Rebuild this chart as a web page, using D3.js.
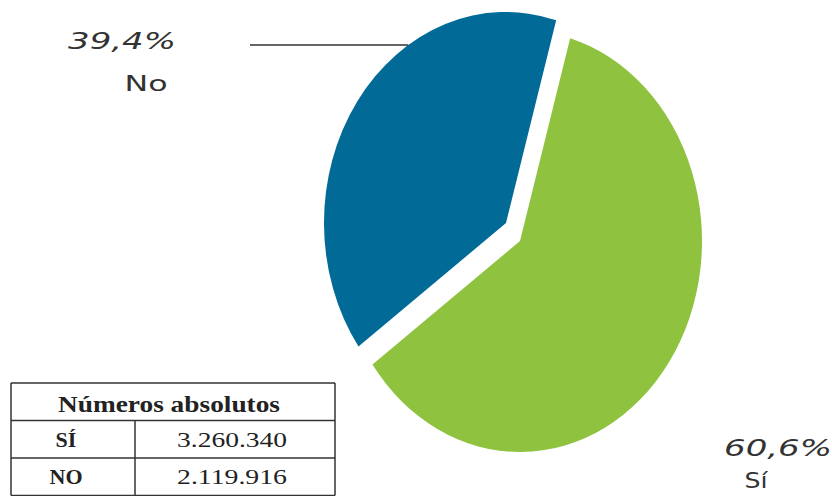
<!DOCTYPE html>
<head>
  <meta charset="utf-8">
  <title>Sí / No</title>
  <script src="https://d3js.org/d3.v7.min.js"></script>
  <style>
    body { margin: 0; background: #fff; }
    .pct { font-family: "DejaVu Sans", Verdana, sans-serif; font-style: italic; font-size: 23px; fill: #333; }
    .cat { font-family: "DejaVu Sans", Verdana, sans-serif; font-size: 22px; fill: #333; }
    .tbl { font-family: "Liberation Serif", "Times New Roman", serif; fill: #222; }
  </style>
</head>
<body>
  <div id="chart"></div>
  <script>
    // data
    var categories = ["Sí", "No"];
    var values = [3260340, 2119916];
    var pctLabels = ["60,6%", "39,4%"];
    var tableTitle = "Números absolutos";
    var tableRows = ["SÍ", "NO"];
    var colors = ["#8fc23f", "#016a96"];

    var width = 832, height = 496;

    var svg = d3.select("#chart").append("svg")
      .attr("width", width)
      .attr("height", height);

    // ellipse-shaped pie (stretched vertically)
    var cx = 520, cy = 241, rx = 182, ry = 211;
    var explode = [[0, 0], [-14, -18]];

    var pie = d3.pie().sort(null)
      .startAngle(16 * Math.PI / 180)
      .endAngle(16 * Math.PI / 180 + 2 * Math.PI);
    var arcs = pie(values);
    var arc = d3.arc().innerRadius(0).outerRadius(ry);

    svg.append("g")
      .selectAll("path")
      .data(arcs)
      .enter()
      .append("path")
      .attr("transform", (d, i) => "translate(" + (cx + explode[i][0]) + "," + (cy + explode[i][1]) + ") scale(" + (rx / ry) + ",1)")
      .attr("d", arc)
      .attr("fill", (d, i) => colors[i]);

    // leader line for "No" ends on the blue slice edge
    var ly = 45;
    var bcx = cx + explode[1][0], bcy = cy + explode[1][1];
    var lx = bcx - rx * Math.sqrt(1 - Math.pow((ly - bcy) / ry, 2));
    svg.append("line")
      .attr("x1", 250).attr("y1", ly)
      .attr("x2", lx).attr("y2", ly)
      .attr("stroke", "#333")
      .attr("stroke-width", 1.5);

    // labels
    var labelPos = [[778, 456, 488], [122, 49, 91]];
    labelPos.forEach(function(p, i) {
      svg.append("text").attr("class", "pct")
        .attr("x", p[0]).attr("y", p[1])
        .attr("text-anchor", "middle")
        .attr("textLength", 108).attr("lengthAdjust", "spacingAndGlyphs")
        .text(pctLabels[i]);
      svg.append("text").attr("class", "cat")
        .attr("x", p[0] + (i == 0 ? -22 : 24)).attr("y", p[2])
        .attr("text-anchor", "middle")
        .attr("textLength", i == 0 ? 23 : 43).attr("lengthAdjust", "spacingAndGlyphs")
        .text(categories[i]);
    });

    // table of absolute numbers
    var fmt = d3.formatLocale({decimal: ",", thousands: ".", grouping: [3], currency: ["", ""]}).format(",d");
    var tx0 = 11, tx1 = 335, tcol = 135, rowH = 37.5, ty0 = 383;
    var tbl = svg.append("g");
    var nRows = tableRows.length + 1;

    tbl.append("text").attr("class", "tbl")
      .attr("x", (tx0 + tx1) / 2 - 4).attr("y", ty0 + 29)
      .attr("text-anchor", "middle")
      .attr("font-weight", "bold").attr("font-size", 23)
      .attr("textLength", 222).attr("lengthAdjust", "spacingAndGlyphs")
      .text(tableTitle);

    tableRows.forEach(function(r, i) {
      var y = ty0 + rowH * (i + 1);
      tbl.append("text").attr("class", "tbl")
        .attr("x", (tx0 + tcol) / 2 - 7).attr("y", y + 26)
        .attr("text-anchor", "middle")
        .attr("font-weight", "bold").attr("font-size", 22)
        .text(r);
      tbl.append("text").attr("class", "tbl")
        .attr("x", (tcol + tx1) / 2 - 3).attr("y", y + 26)
        .attr("text-anchor", "middle")
        .attr("font-size", 22)
        .attr("textLength", 110).attr("lengthAdjust", "spacingAndGlyphs")
        .text(fmt(values[i]));
    });

    var lineAttr = function(sel) { return sel.attr("stroke", "#333").attr("stroke-width", 1.5); };
    var bottom = ty0 + rowH * nRows;
    for (var k = 0; k <= nRows; k++) {
      lineAttr(tbl.append("line")
        .attr("x1", tx0).attr("x2", tx1)
        .attr("y1", ty0 + rowH * k).attr("y2", ty0 + rowH * k));
    }
    lineAttr(tbl.append("line").attr("x1", tx0).attr("x2", tx0).attr("y1", ty0).attr("y2", bottom));
    lineAttr(tbl.append("line").attr("x1", tx1).attr("x2", tx1).attr("y1", ty0).attr("y2", bottom));
    lineAttr(tbl.append("line").attr("x1", tcol).attr("x2", tcol).attr("y1", ty0 + rowH).attr("y2", bottom));
  </script>
</body>
</html>
